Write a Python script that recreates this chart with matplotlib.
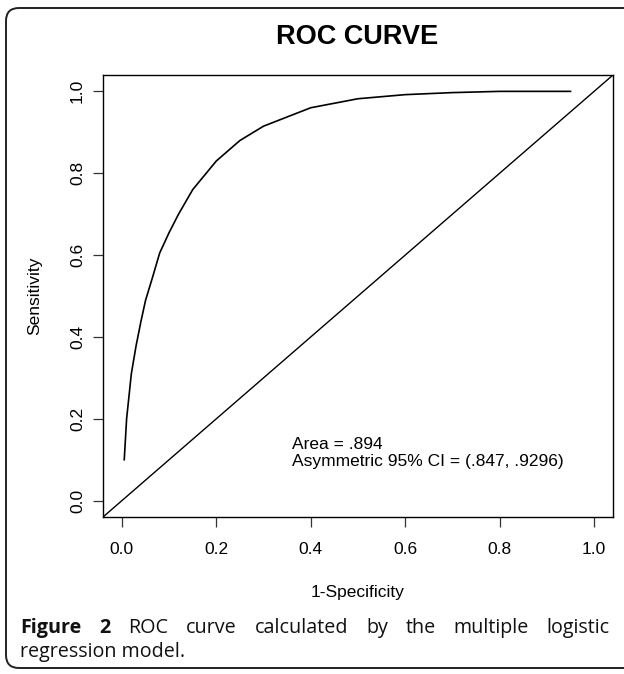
import matplotlib

matplotlib.use("Agg")
import matplotlib.pyplot as plt
from matplotlib.patches import FancyBboxPatch

# ROC curve
fpr = [0.005, 0.01, 0.02, 0.03, 0.04, 0.05, 0.065, 0.08, 0.10, 0.12,
       0.15, 0.20, 0.25, 0.30, 0.40, 0.50, 0.60, 0.70, 0.80, 0.95]
tpr = [0.10, 0.20, 0.31, 0.378, 0.436, 0.489, 0.546, 0.605, 0.655, 0.70,
       0.76, 0.83, 0.88, 0.915, 0.96, 0.982, 0.992, 0.997, 1.0, 1.0]
ref_line = [-0.04, 1.04]

ticks = [0.0, 0.2, 0.4, 0.6, 0.8, 1.0]
tick_labels = ["0.0", "0.2", "0.4", "0.6", "0.8", "1.0"]

title = "ROC CURVE"
xlabel = "1-Specificity"
ylabel = "Sensitivity"
note_lines = ["Area = .894", "Asymmetric 95% CI = (.847, .9296)"]
note_y = [0.125, 0.0835]

caption_line1 = [("Figure", "bold"), ("2", "bold"), ("ROC", "medium"),
                 ("curve", "medium"), ("calculated", "medium"), ("by", "medium"),
                 ("the", "medium"), ("multiple", "medium"), ("logistic", "medium")]
caption_line2 = "regression model."

W, H = 624, 674
plt.rcParams["font.family"] = ["Liberation Sans", "DejaVu Sans"]
fig = plt.figure(figsize=(W / 100, H / 100), dpi=100)

# outer rounded frame, running off the right edge like the reference
frame = FancyBboxPatch((0.06, 0.06), 6.5, 6.6,
                       boxstyle="round,pad=0,rounding_size=0.13",
                       transform=fig.dpi_scale_trans, fill=False,
                       edgecolor="#222222", linewidth=1.4)
fig.patches.append(frame)

ax = fig.add_axes([103 / W, 1 - 517 / H, 510 / W, 442 / H])
ax.plot(fpr, tpr, color="black", lw=1.2)
ax.plot(ref_line, ref_line, color="black", lw=1.0)
ax.set_xlim(-0.04, 1.04)
ax.set_ylim(-0.04, 1.04)

fs = 12.5
ax.set_xticks(ticks)
ax.set_xticklabels(tick_labels, fontsize=fs)
ax.set_yticks(ticks)
ax.set_yticklabels(tick_labels, fontsize=fs, rotation=90, va="center")
ax.tick_params(direction="out", length=7, width=0.9, color="#333333")
ax.tick_params(axis="x", pad=11)
ax.tick_params(axis="y", pad=6)
for s in ax.spines.values():
    s.set_linewidth(1.0)
    s.set_color("black")

for txt, yy in zip(note_lines, note_y):
    ax.text(0.36, yy, txt, fontsize=fs, ha="left", va="baseline")

fig.text(357 / W, 1 - 37 / H, title, fontsize=19.5, fontweight="bold",
         ha="center", va="center")
fig.text(358 / W, 1 - 592 / H, xlabel, fontsize=fs, ha="center", va="center")
fig.text(35 / W, 1 - 296 / H, ylabel, fontsize=fs, rotation=90,
         ha="center", va="center")

# justified caption, first line spread between left and right margins
cap_fs = 14.2
cap_font = ["Open Sans", "DejaVu Sans"]
left_px, right_px = 20, 610
base1, base2 = 1 - 633 / H, 1 - 657 / H
renderer = fig.canvas.get_renderer()
words = []
for w, weight in caption_line1:
    t = fig.text(0, base1, w, fontsize=cap_fs, fontweight=weight,
                 family=cap_font, ha="left", va="baseline", color="#111111")
    words.append(t)
widths = [t.get_window_extent(renderer).width for t in words]
gap = (right_px - left_px - sum(widths)) / (len(words) - 1)
x = left_px
for t, wd in zip(words, widths):
    t.set_x(x / W)
    x += wd + gap
fig.text(left_px / W, base2, caption_line2, fontsize=cap_fs, family=cap_font,
         fontweight="medium", ha="left", va="baseline", color="#111111")

fig.savefig("out.png", dpi=100)
